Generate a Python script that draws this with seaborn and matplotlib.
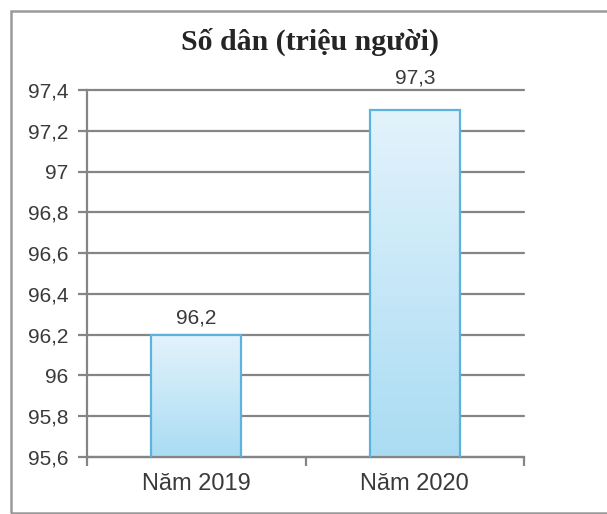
import numpy as np
import pandas as pd
import matplotlib
matplotlib.use("Agg")
import matplotlib.pyplot as plt
import seaborn as sns
from matplotlib.ticker import FuncFormatter, FixedLocator
from matplotlib.patches import Rectangle
from matplotlib.colors import LinearSegmentedColormap

categories = ["Năm 2019", "Năm 2020"]
values = [96.2, 97.3]
value_labels = ["96,2", "97,3"]
title = "Số dân (triệu người)"
yticks = [95.6, 95.8, 96.0, 96.2, 96.4, 96.6, 96.8, 97.0, 97.2, 97.4]

sns.set_theme(style="white")
plt.rcParams['font.family'] = ['Liberation Sans', 'DejaVu Sans']

df = pd.DataFrame({"cat": categories, "val": values})

W, H = 607, 514
fig = plt.figure(figsize=(W / 100, H / 100), dpi=100)
ax = fig.add_axes([87 / W, 1 - 457 / H, (524 - 87) / W, (457 - 90) / H])

sns.barplot(data=df, x="cat", y="val", ax=ax, width=0.41, color="#c4e7f7",
            edgecolor="#5cb3dd", linewidth=1.6, zorder=3)

ax.set_xlim(-0.5, 1.5)
ax.set_ylim(95.6, 97.4)

cmap = LinearSegmentedColormap.from_list("g", ["#a9dcf3", "#e3f3fc"])
grad = np.linspace(0, 1, 256).reshape(-1, 1)
ylo = 95.6
for p in ax.patches:
    x0 = p.get_x(); w = p.get_width()
    top = p.get_y() + p.get_height()
    bottom = max(p.get_y(), ylo)
    p.set_facecolor("none")
    im = ax.imshow(grad, extent=(x0, x0 + w, bottom, top), origin="lower",
                   cmap=cmap, aspect="auto", zorder=2.5)
    im.set_clip_path(p)
ax.set_aspect("auto")
ax.set_xlim(-0.5, 1.5)
ax.set_ylim(95.6, 97.4)

# value labels (the taller one sits above the top gridline)
label_offsets = [8, 19.5]
for i, (v, lab, off) in enumerate(zip(values, value_labels, label_offsets)):
    ax.annotate(lab, (i, v), xytext=(0, off), textcoords="offset points",
                ha="center", va="baseline", fontsize=15, color="#3a3a3a",
                annotation_clip=False)

ax.yaxis.set_major_locator(FixedLocator(yticks))
ax.yaxis.set_major_formatter(FuncFormatter(lambda v, p: ('%g' % round(v, 1)).replace('.', ',')))
ax.grid(axis="y", color="#858585", linewidth=1.6, zorder=1)
ax.set_axisbelow(True)
for gl in ax.yaxis.get_gridlines():
    gl.set_clip_on(False)

for s in ["top", "right"]:
    ax.spines[s].set_visible(False)
for s in ["left", "bottom"]:
    ax.spines[s].set_color("#858585")
    ax.spines[s].set_linewidth(1.6)

ax.tick_params(axis="y", which="major", length=9 * 0.72, width=1.6, color="#858585",
               labelsize=15, labelcolor="#3a3a3a", pad=7, left=True)
ax.set_xticks([-0.5, 0.5, 1.5], minor=True)
ax.tick_params(axis="x", which="minor", length=9 * 0.72, width=1.6, color="#858585", bottom=True)
ax.tick_params(axis="x", which="major", length=0, labelsize=17, labelcolor="#3a3a3a", pad=11.5)
ax.set_xlabel("")
ax.set_ylabel("")

fig.text(310 / W, 1 - 50 / H, title, ha="center", va="baseline", fontsize=21.5,
         fontweight="bold", family=["Liberation Serif", "DejaVu Serif"], color="#252525")

fig.patches.append(Rectangle((11 / W, 1 - 513 / H), 650 / W, 502 / H, transform=fig.transFigure,
                             fill=False, edgecolor="#9a9a9a", linewidth=1.8))

fig.savefig("out.png", dpi=100, facecolor="white")
